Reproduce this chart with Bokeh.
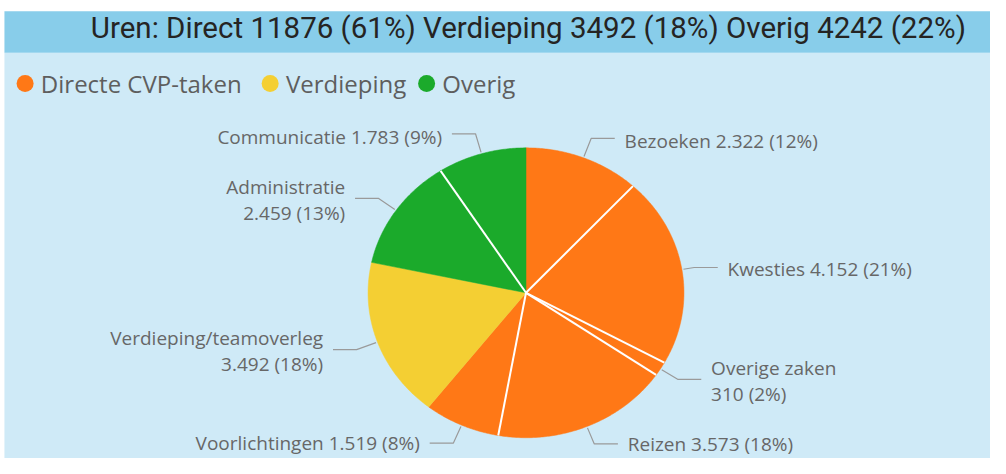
import numpy as np
from bokeh.plotting import figure
from bokeh.models import Range1d
from bokeh.core.properties import value
from bokeh.embed import file_html
from bokeh.resources import INLINE

# ---------------- data ----------------
categories = ["Bezoeken", "Kwesties", "Overige zaken", "Reizen", "Voorlichtingen",
              "Verdieping/teamoverleg", "Administratie", "Communicatie"]
hours = [2322, 4152, 310, 3573, 1519, 3492, 2459, 1783]
groups = ["Directe CVP-taken", "Directe CVP-taken", "Directe CVP-taken", "Directe CVP-taken",
          "Directe CVP-taken", "Verdieping", "Overig", "Overig"]
percent_labels = ["12%", "21%", "2%", "18%", "8%", "18%", "13%", "9%"]
value_labels = ["2.322", "4.152", "310", "3.573", "1.519", "3.492", "2.459", "1.783"]
legend_names = ["Directe CVP-taken", "Verdieping", "Overig"]
title_text = "Uren: Direct 11876 (61%) Verdieping 3492 (18%) Overig 4242 (22%)"

group_colors = {"Directe CVP-taken": "#FF7816", "Verdieping": "#F4CF33", "Overig": "#1BAA2B"}

# ---------------- layout ----------------
W, H = 990, 458          # figure size in screen px
RW, RH = 1006, 474       # reference canvas (data units)
CX, CY = 534.0, 302.5
RX, RY = 160.5, 150.0
BG = "#CFEAF7"
BAR = "#88CDEA"
LABEL_COLOR = "#676767"
LEADER_COLOR = "#9A9A9A"
LABEL_FONT = value("Open Sans")
label_size = "19px"

elbow_len = [20, 11, 19, 18, 19, 21, 20, 20]
two_line = [False, False, True, False, False, True, True, False]
text_dy = [3, 2, 0, 0, 0, 0, 0, 3]

p = figure(width=W, height=H, output_backend="svg", toolbar_location=None,
           x_range=Range1d(0, RW), y_range=Range1d(RH, 0),
           min_border=0, background_fill_color="white", border_fill_color="white",
           outline_line_color=None)
p.axis.visible = False
p.grid.visible = False

# background panels
p.quad(left=[4], right=[RW], top=[54], bottom=[RH], fill_color=BG, line_color=None)
p.quad(left=[4], right=[RW], top=[11], bottom=[54], fill_color=BAR, line_color=None)
p.text(x=[981], y=[28], text=[title_text], text_align="right", text_baseline="middle",
       text_font=value("Roboto"), text_font_size="29.5px", text_color="#252423")

# legend
leg_x = [25, 274, 433]
leg_y = 86
for name, lx in zip(legend_names, leg_x):
    p.scatter(x=[lx], y=[leg_y], size=17, marker="circle", fill_color=group_colors[name], line_color=None)
    p.text(x=[lx + 16], y=[leg_y], text=[name], text_align="left", text_baseline="middle",
           text_font=LABEL_FONT, text_font_size="24px", text_color="#5E5E5E")

# pie slices (angles clockwise from top)
vals = np.array(hours, dtype=float)
fracs = vals / vals.sum()
ends = np.cumsum(fracs) * 2 * np.pi
starts = ends - fracs * 2 * np.pi
xs, ys = [], []
for a0, a1 in zip(starts, ends):
    t = np.linspace(a0, a1, max(int((a1 - a0) / 0.01), 4))
    xs.append(np.concatenate([[CX], CX + RX * np.sin(t)]).tolist())
    ys.append(np.concatenate([[CY], CY - RY * np.cos(t)]).tolist())
colors = [group_colors[g] for g in groups]
p.patches(xs=xs, ys=ys, fill_color=colors, line_color=colors, line_width=0.5)

# white separators between slices of the same group
sep_x, sep_y = [], []
n = len(hours)
for i in range(n):
    j = (i + 1) % n
    if groups[i] == groups[j]:
        a = ends[i]
        sep_x.append([CX, CX + RX * np.sin(a)])
        sep_y.append([CY, CY - RY * np.cos(a)])
p.multi_line(xs=sep_x, ys=sep_y, line_color="white", line_width=2)

# leader lines and labels
lx_all, ly_all = [], []
for i in range(n):
    mid = (starts[i] + ends[i]) / 2
    sx, sy = np.sin(mid), -np.cos(mid)
    ex0, ey0 = CX + RX * 1.01 * sx, CY + RY * 1.01 * sy
    bx, by = ex0 + sx * elbow_len[i], ey0 + sy * elbow_len[i]
    side = 1 if sx > 0 else -1
    hx = bx + side * 24
    lx_all.append([ex0, bx, hx])
    ly_all.append([ey0, by, by])
    tx = hx + side * 10
    align = "left" if side > 0 else "right"
    if two_line[i]:
        lines = [categories[i], f"{value_labels[i]} ({percent_labels[i]})"]
        tys = [by - 12, by + 15]
    else:
        lines = [f"{categories[i]} {value_labels[i]} ({percent_labels[i]})"]
        tys = [by + text_dy[i]]
    for txt, ty in zip(lines, tys):
        p.text(x=[tx], y=[ty], text=[txt], text_align=align, text_baseline="middle",
               text_font=LABEL_FONT, text_font_size=label_size, text_color=LABEL_COLOR)
p.multi_line(xs=lx_all, ys=ly_all, line_color=LEADER_COLOR, line_width=1.2)

open("out.html", "w").write(file_html(p, INLINE))
